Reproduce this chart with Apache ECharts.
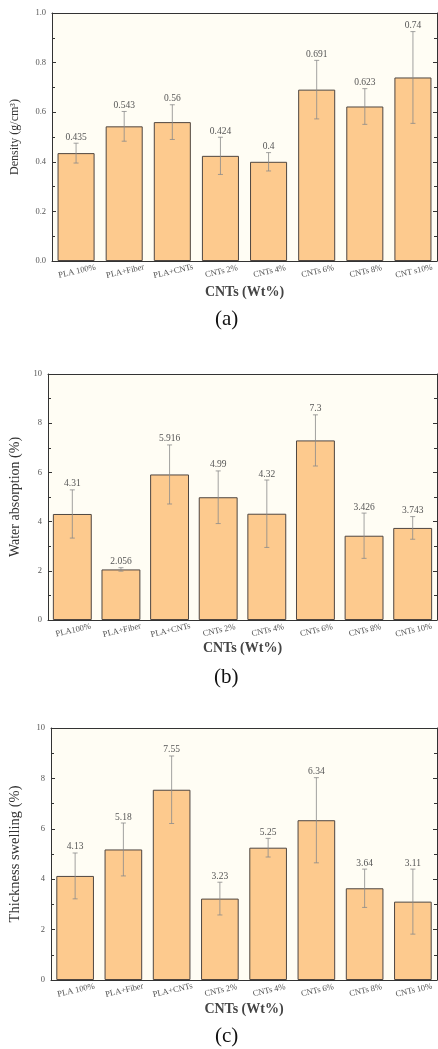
<!DOCTYPE html>
<html>
<head>
<meta charset="utf-8">
<script src="https://cdn.jsdelivr.net/npm/echarts@6/dist/echarts.min.js"></script>
<style>
  html, body { margin: 0; padding: 0; background: #fff; }
  #chart { width: 438px; height: 1049px; }
</style>
</head>
<body>
<div id="chart"></div>
<script>
// (a) density
var catsA = ['PLA 100%', 'PLA+Fiber', 'PLA+CNTs', 'CNTs 2%', 'CNTs 4%', 'CNTs 6%', 'CNTs 8%', 'CNT s10%'];
var densityVals = [0.435, 0.543, 0.56, 0.424, 0.4, 0.691, 0.623, 0.74];
var densityErr = [0.04, 0.06, 0.07, 0.075, 0.037, 0.118, 0.072, 0.185];
var densityTicks = [0, 0.2, 0.4, 0.6, 0.8, 1.0];

// (b) water absorption
var catsB = ['PLA100%', 'PLA+Fiber', 'PLA+CNTs', 'CNTs 2%', 'CNTs 4%', 'CNTs 6%', 'CNTs 8%', 'CNTs 10%'];
var waterVals = [4.31, 2.056, 5.916, 4.99, 4.32, 7.3, 3.426, 3.743];
var waterErr = [0.98, 0.07, 1.2, 1.07, 1.37, 1.04, 0.92, 0.46];

// (c) thickness swelling
var catsC = ['PLA 100%', 'PLA+Fiber', 'PLA+CNTs', 'CNTs 2%', 'CNTs 4%', 'CNTs 6%', 'CNTs 8%', 'CNTs 10%'];
var swellVals = [4.13, 5.18, 7.55, 3.23, 5.25, 6.34, 3.64, 3.11];
var swellErr = [0.91, 1.05, 1.34, 0.65, 0.37, 1.69, 0.76, 1.29];
var percentTicks = [0, 2, 4, 6, 8, 10];

var serif = '"Liberation Serif", "DejaVu Serif", serif';

var grids = [
    {left: 52, top: 13, width: 385, height: 248},
    {left: 47, top: 374, width: 390, height: 246},
    {left: 50, top: 728, width: 387, height: 252}
];
var panels = [
    {cats: catsA, vals: densityVals, err: densityErr, ticks: densityTicks, name: 'Density (g/cm\u00b3)', nameSize: 12, nameGap: 31, xGap: 24, bw: '77%', dec: 1},
    {cats: catsB, vals: waterVals, err: waterErr, ticks: percentTicks, name: 'Water absorption (%)', nameSize: 14, nameGap: 26, xGap: 21, bw: '80%', dec: 0},
    {cats: catsC, vals: swellVals, err: swellErr, ticks: percentTicks, name: 'Thickness swelling (%)', nameSize: 14.5, nameGap: 28, xGap: 22, bw: '78%', dec: 0}
];

var xAxes = [], yAxes = [], series = [];

function renderErr(params, api) {
    var v = api.value(1), e = api.value(2);
    var top = api.coord([api.value(0), v + e]);
    var bot = api.coord([api.value(0), v - e]);
    var cap = 2.5;
    var st = {stroke: '#8a8a8a', lineWidth: 0.8};
    return {
        type: 'group',
        children: [
            {type: 'line', shape: {x1: top[0], y1: top[1], x2: bot[0], y2: bot[1]}, style: st},
            {type: 'line', shape: {x1: top[0] - cap, y1: top[1], x2: top[0] + cap, y2: top[1]}, style: st},
            {type: 'line', shape: {x1: bot[0] - cap, y1: bot[1], x2: bot[0] + cap, y2: bot[1]}, style: st},
            {type: 'text', style: {text: String(v), x: top[0], y: top[1] - 1, textAlign: 'center', textVerticalAlign: 'bottom',
                font: '9.5px ' + serif, fill: '#555'}}
        ]
    };
}

for (var g = 0; g < panels.length; g++) {
    var p = panels[g];
    var step = p.ticks[1] - p.ticks[0];
    var xi = xAxes.length, yi = yAxes.length;

    // bottom axis with labels, ticks at bar centres
    xAxes.push({
        type: 'category', gridIndex: g, data: p.cats, position: 'bottom',
        axisLine: {lineStyle: {color: '#333', width: 1}},
        axisTick: {inside: true, alignWithLabel: true, length: 4, lineStyle: {color: '#333'}},
        axisLabel: {interval: 0, hideOverlap: false, rotate: 13, align: 'center', verticalAlign: 'top', margin: 6,
            fontSize: 8.5, fontFamily: serif, color: '#555'},
        name: 'CNTs (Wt%)', nameLocation: 'middle', nameGap: p.xGap,
        nameTextStyle: {fontFamily: serif, fontSize: 14, fontWeight: 'bold', color: '#444', verticalAlign: 'top'}
    });
    // bottom boundary ticks
    xAxes.push({
        type: 'category', gridIndex: g, data: p.cats, position: 'bottom',
        axisLine: {show: false}, axisLabel: {show: false},
        axisTick: {inside: true, interval: 0, length: 2, lineStyle: {color: '#333'}}
    });
    // top mirror
    xAxes.push({
        type: 'category', gridIndex: g, data: p.cats, position: 'top',
        axisLine: {lineStyle: {color: '#333', width: 1}}, axisLabel: {show: false},
        axisTick: {inside: true, interval: 0, alignWithLabel: true, length: 4, lineStyle: {color: '#333'}}
    });
    xAxes.push({
        type: 'category', gridIndex: g, data: p.cats, position: 'top',
        axisLine: {show: false}, axisLabel: {show: false},
        axisTick: {inside: true, interval: 0, length: 2, lineStyle: {color: '#333'}}
    });

    var yBase = {
        type: 'value', gridIndex: g, min: p.ticks[0], max: p.ticks[p.ticks.length - 1], interval: step,
        splitLine: {show: false},
        axisLine: {show: true, lineStyle: {color: '#333', width: 1}},
        axisTick: {show: true, inside: true, length: 4, lineStyle: {color: '#333'}},
        minorTick: {show: true, splitNumber: 2, length: 3, lineStyle: {color: '#333'}}
    };
    yAxes.push(Object.assign({}, yBase, {
        position: 'left',
        axisLabel: {fontSize: 8.5, fontFamily: serif, color: '#555', margin: 6,
            formatter: (function (d) { return function (v) { return v.toFixed(d); }; })(p.dec)},
        name: p.name, nameLocation: 'middle', nameGap: p.nameGap,
        nameTextStyle: {fontFamily: serif, fontSize: p.nameSize, color: '#333'}
    }));
    yAxes.push(Object.assign({}, yBase, {position: 'right', axisLabel: {show: false}}));

    series.push({
        type: 'bar', xAxisIndex: xi, yAxisIndex: yi, data: p.vals, barWidth: p.bw,
        itemStyle: {color: '#FDCA8E', borderColor: '#4f4640', borderWidth: 1},
        silent: true
    });
    var errData = [];
    for (var i = 0; i < p.vals.length; i++) {
        errData.push([i, p.vals[i], p.err[i]]);
    }
    series.push({
        type: 'custom', xAxisIndex: xi, yAxisIndex: yi, data: errData, renderItem: renderErr, z: 5, silent: true
    });
}

var option = {
    animation: false,
    grid: grids.map(function (gr) {
        return Object.assign({show: true, backgroundColor: '#FFFDF4', borderWidth: 0}, gr);
    }),
    xAxis: xAxes,
    yAxis: yAxes,
    series: series,
    graphic: [
        {type: 'text', left: 215, top: 309, style: {text: '(a)', font: '21px ' + serif, fill: '#111'}},
        {type: 'text', left: 214, top: 667, style: {text: '(b)', font: '21px ' + serif, fill: '#111'}},
        {type: 'text', left: 215, top: 1026, style: {text: '(c)', font: '21px ' + serif, fill: '#111'}}
    ]
};

echarts.init(document.getElementById('chart')).setOption(option);
</script>
</body>
</html>
